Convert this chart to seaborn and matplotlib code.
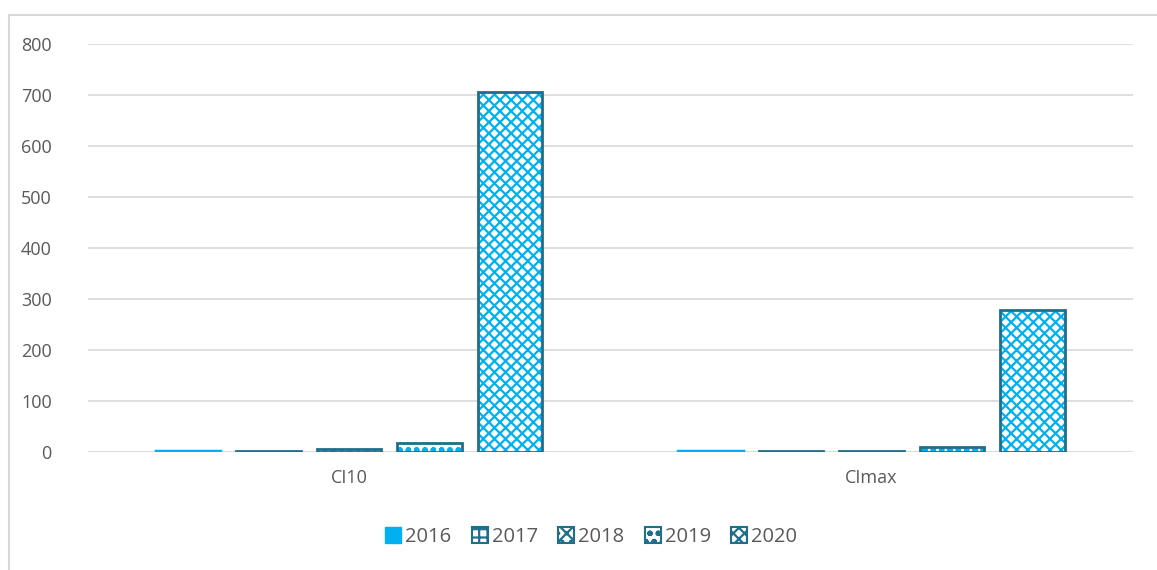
import matplotlib
matplotlib.use('Agg')
import matplotlib.pyplot as plt
from matplotlib.patches import Rectangle, Patch
import seaborn as sns
import pandas as pd

categories = ['CI10', 'CImax']
years = ['2016', '2017', '2018', '2019', '2020']
ci10 = [1, 2, 5, 18, 706]
cimax = [1, 1, 2, 9, 279]

hatches = ['', '++', 'xx..', 'oo', 'xxx']
fill_blue = '#00B0F0'
edge_dark = '#1F6E8C'
text_grey = '#595959'

rows = []
for cat, vals in zip(categories, [ci10, cimax]):
    for yr, v in zip(years, vals):
        rows.append({'cat': cat, 'year': yr, 'value': v})
df = pd.DataFrame(rows)

sns.set_style('white')
plt.rcParams['font.family'] = ['Open Sans', 'DejaVu Sans']
plt.rcParams['hatch.linewidth'] = 1.6

fig = plt.figure(figsize=(11.57, 5.70), dpi=100)
ax = fig.add_axes([0.076, 0.207, 0.903, 0.716])

palette = {yr: (fill_blue if i == 0 else 'white') for i, yr in enumerate(years)}
sns.barplot(data=df, x='cat', y='value', hue='year', hue_order=years,
            palette=palette, width=0.77, gap=0.2, saturation=1,
            legend=False, ax=ax)

# hatch each year, then add a dark outline on top
for cont, h in zip(ax.containers, hatches):
    for bar in cont:
        bar.set_hatch(h)
        bar.set_edgecolor(fill_blue)
        bar.set_linewidth(0 if h else 2.5)
        if h:
            x, y = bar.get_xy()
            ax.add_patch(Rectangle((x, y), bar.get_width(), bar.get_height(),
                                   fill=False, edgecolor=edge_dark, lw=2, zorder=3))

ax.set_ylim(0, 800)
ax.set_yticks(range(0, 801, 100))
ax.yaxis.grid(True, color='#D9D9D9', lw=1.2)
ax.set_axisbelow(True)
for s in ax.spines.values():
    s.set_visible(False)
ax.axhline(0, color='#D9D9D9', lw=1.2, zorder=0)
ax.set_xlabel('')
ax.set_ylabel('')
ax.tick_params(axis='both', length=0, labelsize=13, labelcolor=text_grey)
ax.tick_params(axis='y', pad=26)
ax.tick_params(axis='x', pad=12)

handles = []
for i, (yr, h) in enumerate(zip(years, hatches)):
    if i == 0:
        handles.append(Patch(facecolor=fill_blue, edgecolor=fill_blue, label=yr))
    else:
        handles.append(Patch(facecolor='white', edgecolor=edge_dark, hatch=h, lw=1.5, label=yr))
leg = fig.legend(handles=handles, loc='center', bbox_to_anchor=(0.511, 0.058),
                 ncol=5, frameon=False, fontsize=14.5, handlelength=0.8,
                 handleheight=0.8, handletextpad=0.2, columnspacing=1.0)
for t in leg.get_texts():
    t.set_color(text_grey)

# outer chart frame (only left and top visible)
fig.add_artist(Rectangle((9 / 1157, -0.1), 1.2, 1 - 15 / 570 + 0.1,
                         transform=fig.transFigure, fill=False,
                         edgecolor='#D9D9D9', lw=1.5))

fig.savefig('out.png', dpi=100)
